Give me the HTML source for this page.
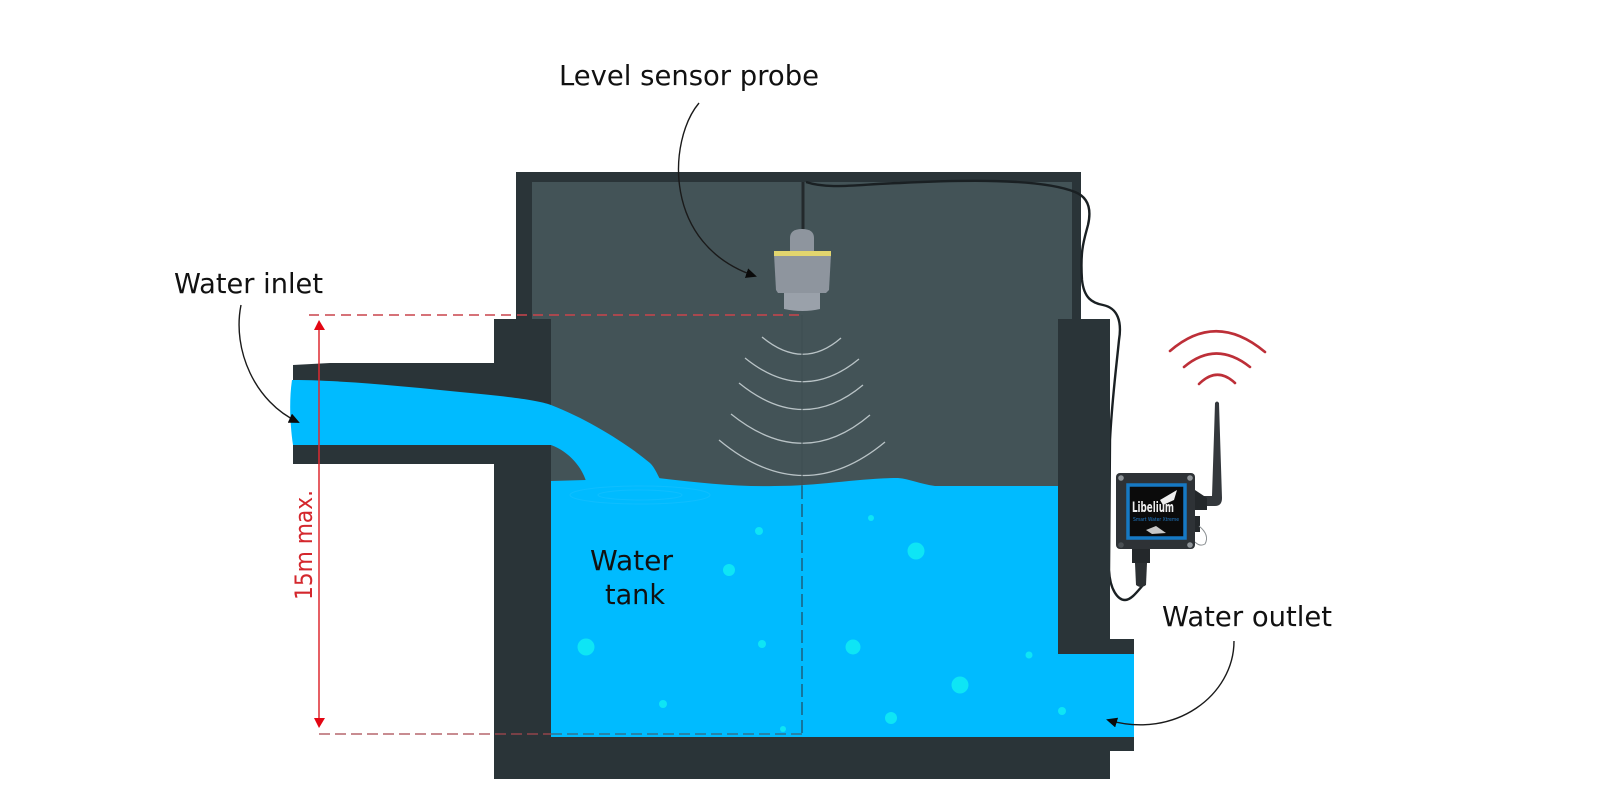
<!DOCTYPE html>
<html>
<head>
<meta charset="utf-8">
<style>
html,body{margin:0;padding:0;background:#fff;width:1600px;height:800px;overflow:hidden}
svg{display:block}
text{font-family:"DejaVu Sans","Liberation Sans",sans-serif;fill:#111}
</style>
</head>
<body>
<svg width="1600" height="800" viewBox="0 0 1600 800" xmlns="http://www.w3.org/2000/svg">
<defs>
<marker id="bk" markerWidth="12" markerHeight="10" refX="9" refY="5" orient="auto" markerUnits="userSpaceOnUse"><path d="M0 0L11 5L0 10Z" fill="#0a0a0a"/></marker>
</defs>
<rect width="1600" height="800" fill="#fff"/>

<!-- upper chamber -->
<rect x="516" y="172" width="565" height="150" fill="#2a3438"/>
<rect x="532" y="182" width="540" height="140" fill="#435357"/>
<!-- main interior -->
<rect x="551" y="319" width="507" height="175" fill="#435357"/>

<!-- probe cable, behind walls lower down -->
<path d="M806 182C830 190 860 184 900 183C960 180 1040 178 1075 192C1090 198 1091 212 1088 225C1084 240 1080 250 1082 280C1084 298 1092 303 1103 305C1118 308 1122 322 1119 340C1116 370 1112 400 1110 440L1109 570C1110 590 1118 600 1125 600C1131 600 1137 592 1143 585" stroke="#1a2023" stroke-width="2.4" fill="none"/>

<!-- walls -->
<rect x="494" y="319" width="57" height="460" fill="#2a3438"/>
<rect x="1058" y="319" width="52" height="335" fill="#2a3438"/>
<rect x="494" y="737" width="616" height="42" fill="#2a3438"/>
<rect x="1058" y="639" width="76" height="15" fill="#2a3438"/>
<rect x="1100" y="737" width="34" height="14" fill="#2a3438"/>
<!-- inlet pipe -->
<path d="M293 365L330 363H494V464H293Z" fill="#2a3438"/>

<!-- water -->
<path d="M551 481L586 480L658 478C700 483 740 487 775 486C820 486 860 478 898 478C910 479 920 484 935 486H1058V654H1134V737H551Z" fill="#00bbff"/>
<path d="M292 380C340 380 400 386 460 392C500 396 535 399 551 405C590 420 630 446 650 463C655 468 657 474 660 479L590 484L586 481C582 468 570 452 551 445H293C290 425 289 400 292 380Z" fill="#00bbff"/>
<g fill="none" stroke="#3cc8ff" stroke-width="1" opacity=".25">
<ellipse cx="640" cy="495" rx="70" ry="9"/>
<ellipse cx="640" cy="495" rx="42" ry="5"/>
</g>

<!-- bubbles -->
<g fill="#0ee5f5">
<circle cx="759" cy="531" r="4"/><circle cx="871" cy="518" r="3"/>
<circle cx="729" cy="570" r="6"/><circle cx="916" cy="551" r="8.5"/>
<circle cx="586" cy="647" r="8.5"/><circle cx="762" cy="644" r="4"/>
<circle cx="853" cy="647" r="7.5"/><circle cx="1029" cy="655" r="3.5"/>
<circle cx="960" cy="685" r="8.5"/><circle cx="663" cy="704" r="4"/>
<circle cx="1062" cy="711" r="4"/><circle cx="891" cy="718" r="6"/>
<circle cx="783" cy="729" r="3"/>
</g>

<!-- sound waves -->
<g fill="none" stroke="#b9c3c6" stroke-width="1.3">
<path d="M762 337Q803 371 841 338"/>
<path d="M745 358Q803 405 859 359"/>
<path d="M739 383Q803 435 863 385"/>
<path d="M731 414Q803 472 870 415"/>
<path d="M719 440Q803 510 885 442"/>
</g>

<!-- vertical centre dashed -->
<line x1="802" y1="315" x2="802" y2="486" stroke="#3d4c50" stroke-width="1"/>
<line x1="802" y1="486" x2="802" y2="734" stroke="#22495e" stroke-width="1.2" stroke-dasharray="13 5"/>

<!-- red dashed -->
<line x1="309" y1="315" x2="803" y2="315" stroke="#c9444c" stroke-width="1.4" stroke-dasharray="10 6"/>
<line x1="319" y1="734" x2="551" y2="734" stroke="#a8474f" stroke-width="1.2" stroke-dasharray="11 5"/>
<line x1="551" y1="734" x2="802" y2="734" stroke="#3d6478" stroke-width="1.2" stroke-dasharray="11 5"/>
<!-- red dimension -->
<line x1="319" y1="326" x2="319" y2="722" stroke="#dd2a30" stroke-width="1.5"/>
<path d="M314 330L319 320L325 330Z" fill="#e30613"/>
<path d="M314 718L319 728L325 718Z" fill="#e30613"/>
<text transform="translate(312 600) rotate(-90)" font-size="24" textLength="110" lengthAdjust="spacingAndGlyphs" style="fill:#d4272d">15m max.</text>

<!-- probe stem -->
<path d="M803 182V230" stroke="#23292c" stroke-width="3" fill="none"/>

<!-- probe -->
<path d="M790 252V238Q790 229 802 229Q814 229 814 238V252Z" fill="#8e959e"/>
<path d="M774 254H831L829 290L826 293H778L776 290Z" fill="#8e959e"/>
<rect x="774" y="251" width="57" height="5" fill="#e2d56e"/>
<path d="M784 293H820V309Q803 313 784 309Z" fill="#9aa1aa"/>

<!-- label leaders -->
<g fill="none" stroke="#1a1a1a" stroke-width="1.4">
<path d="M699 103C668 140 662 245 755 276" marker-end="url(#bk)"/>
<path d="M241 305C232 350 255 402 298 422" marker-end="url(#bk)"/>
<path d="M1234 641C1234 695 1175 740 1108 720" marker-end="url(#bk)"/>
</g>

<!-- labels -->
<text x="559" y="85" font-size="28" textLength="260" lengthAdjust="spacingAndGlyphs">Level sensor probe</text>
<text x="174" y="293" font-size="28" textLength="149" lengthAdjust="spacingAndGlyphs">Water inlet</text>
<text x="590" y="570" font-size="28" textLength="83" lengthAdjust="spacingAndGlyphs">Water</text>
<text x="605" y="604" font-size="28" textLength="60" lengthAdjust="spacingAndGlyphs">tank</text>
<text x="1162" y="626" font-size="28" textLength="170" lengthAdjust="spacingAndGlyphs">Water outlet</text>

<!-- wireless device -->
<g fill="none" stroke="#bd2f38" stroke-width="2.6" stroke-linecap="round">
<path d="M1170 351Q1216 311 1265 352"/>
<path d="M1184 367Q1216 340 1250 367"/>
<path d="M1199 384Q1217 366 1235 383"/>
</g>
<path d="M1215 403Q1217 400 1219 403L1220 435L1222 498Q1222 506 1215 506H1195V496H1212L1214 435Z" fill="#34383c"/>
<path d="M1195 490L1207 498V510L1195 510Z" fill="#24282b"/>
<path d="M1195 516H1200V532H1195Z" fill="#24282b"/>
<path d="M1199 526Q1210 535 1205 544Q1200 547 1195 542" fill="none" stroke="#8a8f92" stroke-width="1"/>
<rect x="1132" y="549" width="18" height="14" fill="#24282b"/>
<path d="M1135 563H1147L1146 585Q1141 589 1136 585Z" fill="#2c3033"/>
<rect x="1116" y="473" width="79" height="76" rx="4" fill="#2e3236"/>
<circle cx="1121" cy="478" r="2.8" fill="#8f9498"/><circle cx="1190" cy="478" r="2.8" fill="#8f9498"/><circle cx="1190" cy="545" r="2.8" fill="#8f9498"/>
<circle cx="1121" cy="545" r="2.8" fill="#4a4f53"/>
<rect x="1128" y="485" width="57" height="53" fill="#0b0b0b" stroke="#1679c4" stroke-width="3.5"/>
<text x="1132" y="512" font-size="14" font-weight="bold" textLength="42" lengthAdjust="spacingAndGlyphs" style="fill:#efefef">Libelium</text>
<path d="M1160 500L1177 490L1174 500L1163 505Z" fill="#efefef"/>
<text x="1133" y="521" font-size="5" textLength="46" lengthAdjust="spacingAndGlyphs" style="fill:#1f7fd0">Smart Water Xtreme</text>
<path d="M1146 530L1156 526L1166 533L1152 534Z" fill="#c8c8c8"/>
</svg>
</body>
</html>
